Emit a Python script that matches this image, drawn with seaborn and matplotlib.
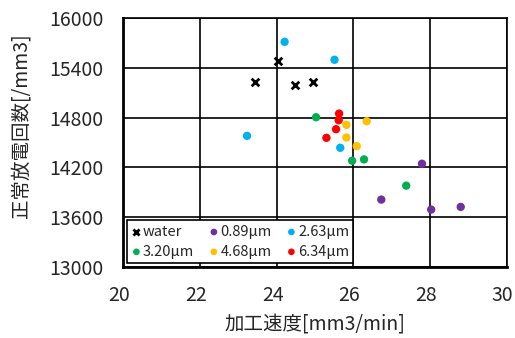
import matplotlib
matplotlib.use("Agg")
import matplotlib.pyplot as plt
import matplotlib.transforms as mtransforms
import seaborn as sns
import pandas as pd

sns.set_style("white")
plt.rcParams['font.family'] = ['Noto Sans CJK JP', 'DejaVu Sans']

series_names = ["water", "0.89μm", "2.63μm", "3.20μm", "4.68μm", "6.34μm"]
colors = ["#000000", "#7030A0", "#00B0F0", "#00B050", "#FFC000", "#FF0000"]

water_x = [24.03, 23.43, 24.48, 24.95]
water_y = [15480, 15228, 15196, 15228]
s089_x = [27.79, 26.73, 28.03, 28.80]
s089_y = [14244, 13812, 13692, 13724]
s263_x = [24.21, 25.51, 23.23, 25.66]
s263_y = [15712, 15496, 14580, 14436]
s320_x = [25.03, 25.97, 26.28, 27.38]
s320_y = [14804, 14280, 14296, 13980]
s468_x = [25.82, 26.35, 25.82, 26.09]
s468_y = [14712, 14756, 14560, 14456]
s634_x = [25.63, 25.62, 25.55, 25.30]
s634_y = [14848, 14768, 14660, 14556]

xs = [water_x, s089_x, s263_x, s320_x, s468_x, s634_x]
ys = [water_y, s089_y, s263_y, s320_y, s468_y, s634_y]

rows = []
for name, x, y in zip(series_names, xs, ys):
    for a, b in zip(x, y):
        rows.append({"x": a, "y": b, "series": name})
df = pd.DataFrame(rows)

x_ticks = [20, 22, 24, 26, 28, 30]
y_ticks = [13000, 13600, 14200, 14800, 15400, 16000]

fig = plt.figure(figsize=(5.15, 3.38), dpi=100)
ax = fig.add_axes([0.239, 0.210, 0.745, 0.737])

for name, col in zip(series_names, colors):
    sub = df[df.series == name]
    if name == "water":
        sns.scatterplot(data=sub, x="x", y="y", ax=ax, marker="x", color=col,
                        s=30, linewidth=2, label=name, zorder=3)
    else:
        sns.scatterplot(data=sub, x="x", y="y", ax=ax, marker="o", color=col,
                        s=36, edgecolor="none", label=name, zorder=3)

ax.set_xlim(20, 30)
ax.set_ylim(13000, 16000)
ax.set_xticks(x_ticks)
ax.set_yticks(y_ticks)
ax.grid(True, color="black", linewidth=1.2)
ax.set_axisbelow(True)
for sp in ax.spines.values():
    sp.set_color("black")
    sp.set_linewidth(1.2)
ax.spines["left"].set_linewidth(2.0)
ax.spines["bottom"].set_linewidth(2.0)
ax.tick_params(axis="both", labelsize=14, length=0)
ax.tick_params(axis="y", pad=14)
ax.tick_params(axis="x", pad=13)
shift = mtransforms.ScaledTranslation(-4 / 100, 0, fig.dpi_scale_trans)
for lab in ax.get_xticklabels():
    lab.set_transform(lab.get_transform() + shift)
ax.set_xlabel("加工速度[mm3/min]", fontsize=14, labelpad=6)
ax.set_ylabel("正常放電回数[/mm3]", fontsize=14)
ax.yaxis.set_label_coords(-0.24, 0.566)

handles, labels = ax.get_legend_handles_labels()
order = [0, 3, 1, 4, 2, 5]
leg = ax.legend([handles[i] for i in order], [labels[i] for i in order],
                ncol=3, loc="lower left", bbox_to_anchor=(0.01, 0.016),
                fontsize=10.5, frameon=True, fancybox=False, edgecolor="black",
                handletextpad=0.1, columnspacing=1.0, borderpad=0.3,
                labelspacing=0.4, handlelength=0.7, markerscale=0.8,
                borderaxespad=0)
leg.get_frame().set_linewidth(1.2)
leg.get_frame().set_alpha(1)

fig.savefig("out.png", dpi=100)
